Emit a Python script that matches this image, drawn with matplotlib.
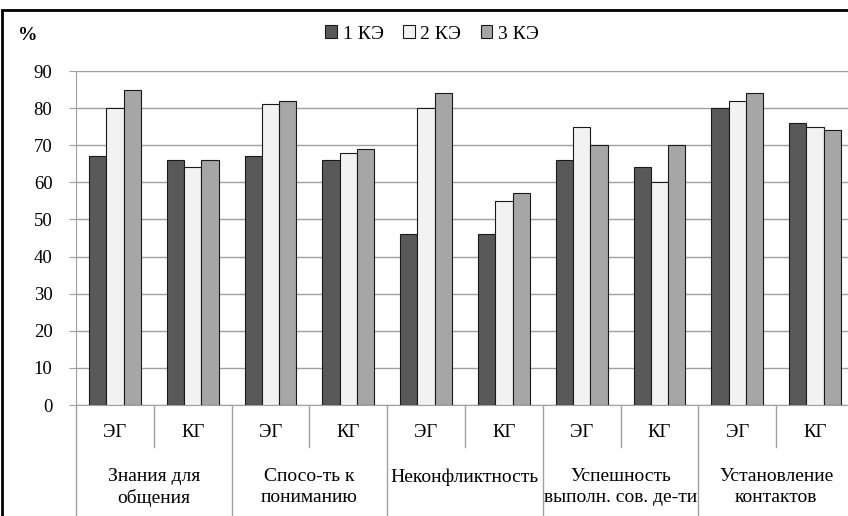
import numpy as np
import matplotlib.pyplot as plt
from matplotlib.patches import Rectangle
from matplotlib.transforms import blended_transform_factory

plt.rcParams['font.family'] = ['Liberation Serif', 'DejaVu Serif']

categories = ['Знания для\nобщения', 'Спосо-ть к\nпониманию', 'Неконфликтность',
              'Успешность\nвыполн. сов. де-ти', 'Установление\nконтактов']
groups = ['ЭГ', 'КГ']
series = ['1 КЭ', '2 КЭ', '3 КЭ']
# order: (cat1 ЭГ, cat1 КГ, cat2 ЭГ, ...)
ke1 = [67, 66, 67, 66, 46, 46, 66, 64, 80, 76]
ke2 = [80, 64, 81, 68, 80, 55, 75, 60, 82, 75]
ke3 = [85, 66, 82, 69, 84, 57, 70, 70, 84, 74]
colors = ['#595959', '#f2f2f2', '#a6a6a6']

fig = plt.figure(figsize=(8.48, 5.16), dpi=100)
ax = fig.add_axes([76/848, 1-405/516, 778/848, 334/516])

x = np.arange(len(ke1)) + 0.5
w = 0.222
for i, vals in enumerate([ke1, ke2, ke3]):
    ax.bar(x + (i-1)*w, vals, w, color=colors[i], edgecolor='#1a1a1a',
           linewidth=0.8, label=series[i], zorder=3)

ax.set_xlim(0, len(ke1))
ax.set_ylim(0, 90)
ax.set_yticks(np.arange(0, 91, 10))
ax.tick_params(axis='y', labelsize=13.5, length=5, color='#a0a0a0', pad=12)
ax.set_xticks([])
ax.grid(axis='y', color='#a0a0a0', linewidth=1, zorder=0)
for s in ['top', 'right']:
    ax.spines[s].set_visible(False)
ax.spines['left'].set_color('#a0a0a0')
ax.spines['bottom'].set_color('#a0a0a0')

tr = blended_transform_factory(ax.transData, ax.transAxes)
for k in range(len(ke1)):
    ax.text(k + 0.5, -0.081, groups[k % 2], transform=tr, ha='center', va='center', fontsize=13.5)
for k in range(len(ke1) + 1):
    bottom = -0.126 if k % 2 else -0.34
    ax.plot([k, k], [0, bottom], transform=tr, color='#a0a0a0', lw=1, clip_on=False)
for j, c in enumerate(categories):
    ax.text(2*j + 1, -0.19, c, transform=tr, ha='center', va='top', fontsize=14,
            linespacing=1.25)

leg = ax.legend(loc='center', bbox_to_anchor=(432/848, 1-34/516), bbox_transform=fig.transFigure,
                ncol=3, frameon=False, fontsize=14, handlelength=0.6, handleheight=0.6,
                handletextpad=0.3, columnspacing=1.0)
fig.text(18/848, 1-36/516, '%', fontsize=14, fontweight='bold', va='center')

fig.patches.append(Rectangle((2/848, -0.1), 1.1, 1 - 10/516 + 0.1, transform=fig.transFigure,
                             fill=False, edgecolor='black', linewidth=2))

fig.savefig('out.png', dpi=100)
